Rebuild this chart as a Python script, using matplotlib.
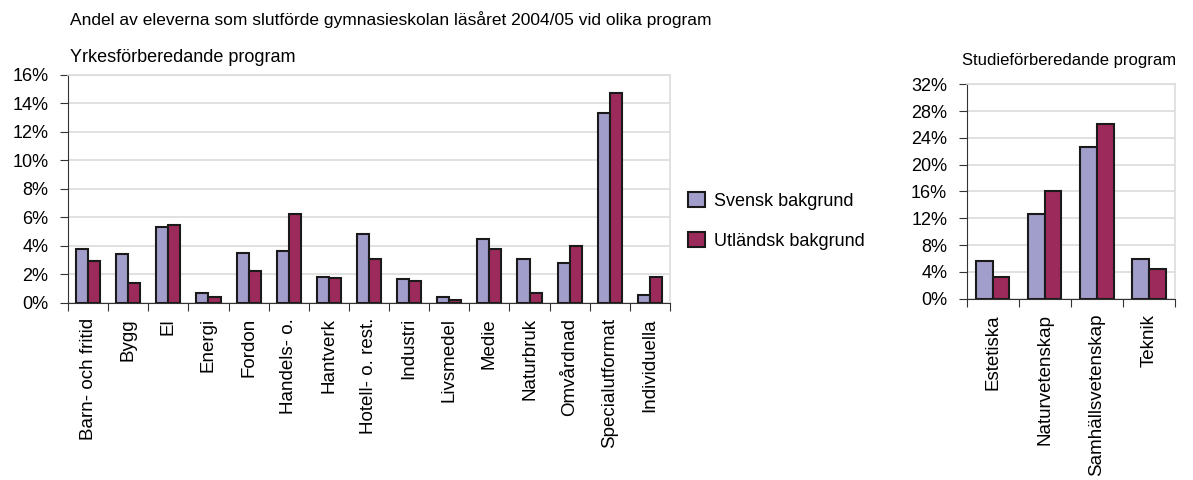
import numpy as np
import matplotlib.pyplot as plt
from matplotlib.ticker import FuncFormatter

plt.rcParams['font.family'] = ['Liberation Sans', 'DejaVu Sans']

# Data (percent)
yrke_prog = ['Barn- och fritid', 'Bygg', 'El', 'Energi', 'Fordon', 'Handels- o.',
             'Hantverk', 'Hotell- o. rest.', 'Industri', 'Livsmedel', 'Medie',
             'Naturbruk', 'Omvårdnad', 'Specialutformat', 'Individuella']
yrke_svensk = [3.8, 3.4, 5.3, 0.7, 3.5, 3.65, 1.8, 4.8, 1.65, 0.4, 4.5, 3.1, 2.8, 13.3, 0.55]
yrke_utl = [2.95, 1.4, 5.45, 0.4, 2.25, 6.2, 1.7, 3.1, 1.55, 0.2, 3.8, 0.7, 3.95, 14.75, 1.8]

studie_prog = ['Estetiska', 'Naturvetenskap', 'Samhällsvetenskap', 'Teknik']
studie_svensk = [5.7, 12.6, 22.7, 6.0]
studie_utl = [3.3, 16.1, 26.0, 4.5]

c_sv = '#A29ECB'
c_ut = '#9C2A5B'
edge = '#1a1a1a'
grid_c = '#dcdcdc'


def style_axes(ax, n, ymax, step):
    ax.set_xlim(-0.5, n - 0.5)
    ax.set_ylim(0, ymax)
    ax.set_yticks(np.arange(0, ymax + step / 2, step))
    ax.yaxis.set_major_formatter(FuncFormatter(lambda v, p: f'{v:.0f}%'))
    ax.yaxis.grid(True, color=grid_c, lw=1.2)
    ax.set_axisbelow(True)
    for s in ['top', 'right']:
        ax.spines[s].set_color(grid_c)
        ax.spines[s].set_linewidth(1.2)
    for s in ['left', 'bottom']:
        ax.spines[s].set_color('#333333')
    # ticks between categories
    ax.set_xticks(np.arange(-0.5, n, 1.0), minor=False)
    ax.set_xticklabels([])
    ax.tick_params(axis='x', which='major', length=6, direction='out', color='#333333')
    ax.tick_params(axis='x', which='minor', length=0, labelsize=13.5, labelrotation=90, pad=11)
    ax.tick_params(axis='y', length=6, color='#333333', labelsize=13, pad=8)


fig = plt.figure(figsize=(11.93, 4.8), dpi=100)

# Left panel
ax1 = fig.add_axes([0.057, 0.3694, 0.5046, 0.475])
x1 = np.arange(len(yrke_prog))
w1 = 0.3
ax1.bar(x1 - w1 / 2, yrke_svensk, w1, color=c_sv, edgecolor=edge, lw=1.5, label='Svensk bakgrund')
ax1.bar(x1 + w1 / 2, yrke_utl, w1, color=c_ut, edgecolor=edge, lw=1.5, label='Utländsk bakgrund')
style_axes(ax1, len(yrke_prog), 16, 2)
ax1.set_xticks(x1, minor=True)
ax1.set_xticklabels(yrke_prog, minor=True, va='top')

# Right panel
ax2 = fig.add_axes([0.8103, 0.3777, 0.1746, 0.4467])
x2 = np.arange(len(studie_prog))
w2 = 0.32
ax2.bar(x2 - w2 / 2, studie_svensk, w2, color=c_sv, edgecolor=edge, lw=1.5)
ax2.bar(x2 + w2 / 2, studie_utl, w2, color=c_ut, edgecolor=edge, lw=1.5)
style_axes(ax2, len(studie_prog), 32, 4)
ax2.set_xticks(x2, minor=True)
ax2.set_xticklabels(studie_prog, minor=True, va='top')

# Texts
fig.text(70 / 1193, 1 - 20 / 480, 'Andel av eleverna som slutförde gymnasieskolan läsåret 2004/05 vid olika program',
         fontsize=12.5, va='center', ha='left')
fig.text(70 / 1193, 1 - 57 / 480, 'Yrkesförberedande program', fontsize=13, va='center', ha='left')
fig.text(962 / 1193, 1 - 60 / 480, 'Studieförberedande program', fontsize=12, va='center', ha='left')

# Legend
fig.legend(loc='center left', bbox_to_anchor=(672 / 1193, 1 - 221 / 480), frameon=False,
           fontsize=13, handlelength=0.9, handleheight=0.9, handletextpad=0.5, labelspacing=1.2)

fig.savefig('out.png', dpi=100)
